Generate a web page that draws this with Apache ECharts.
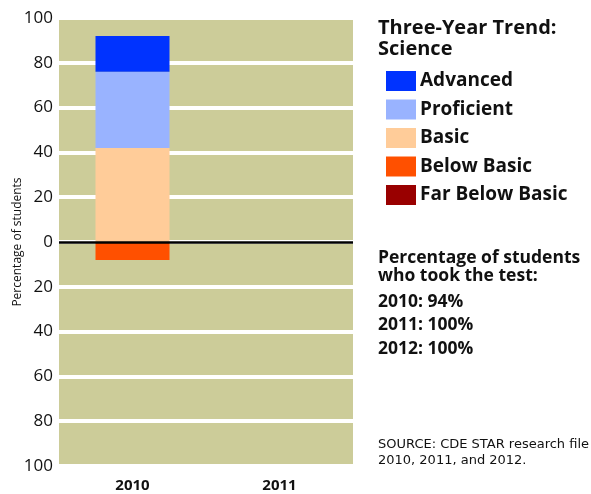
<!DOCTYPE html>
<html>
<head>
<meta charset="utf-8">
<script src="https://cdn.jsdelivr.net/npm/echarts@6/dist/echarts.min.js"></script>
<style>
  html, body { margin: 0; padding: 0; background: #fff; }
  #chart { width: 591px; height: 494px; }
</style>
</head>
<body>
<div id="chart"></div>
<script>
// data
const years = ['2010', '2011']
const advanced = [16, null]
const proficient = [34, null]
const basic = [42, null]
const belowBasic = [-8, null]
const farBelowBasic = [0, null]
const tested = ['2010: 94%', '2011: 100%', '2012: 100%']

const FONT = '"Open Sans", "DejaVu Sans", sans-serif'

const chart = echarts.init(document.getElementById('chart'))

const bar = (name, data, color) => ({
    name: name,
    type: 'bar',
    stack: 'levels',
    data: data,
    barWidth: 74,
    itemStyle: { color: color },
    emphasis: { disabled: true }
})

const series = [
    bar('Basic', basic, '#FFCC99'),
    bar('Proficient', proficient, '#99B3FF'),
    bar('Advanced', advanced, '#0033FF'),
    bar('Below Basic', belowBasic, '#FF5000'),
    bar('Far Below Basic', farBelowBasic, '#990000')
]
// black zero line
series[0].markLine = {
    silent: true,
    symbol: 'none',
    label: { show: false },
    lineStyle: { color: '#000', width: 2.5, type: 'solid' },
    data: [{ yAxis: 0 }]
}

const option = {
    animation: false,
    backgroundColor: '#fff',
    grid: {
        left: 59, right: 238, top: 18, bottom: 28,
        show: true,
        backgroundColor: '#CCCC99',
        borderWidth: 0
    },
    legend: {
        orient: 'vertical',
        left: 386,
        top: 71,
        padding: 0,
        itemWidth: 30,
        itemHeight: 20,
        itemGap: 8.5,
        icon: 'rect',
        data: ['Advanced', 'Proficient', 'Basic', 'Below Basic', 'Far Below Basic'],
        textStyle: { fontFamily: FONT, fontSize: 19, fontWeight: 'bold', color: '#111', padding: [0, 0, 0, -1] },
        selectedMode: false
    },
    xAxis: {
        type: 'category',
        data: years,
        axisLine: { show: false },
        axisTick: { show: false },
        axisLabel: { margin: 12, fontFamily: FONT, fontSize: 15, fontWeight: 'bold', color: '#111' }
    },
    yAxis: {
        type: 'value',
        min: -100,
        max: 100,
        interval: 20,
        name: 'Percentage of students',
        nameLocation: 'middle',
        nameGap: 35,
        nameMoveOverlap: false,
        nameTextStyle: { fontFamily: FONT, fontSize: 12, color: '#111' },
        axisLine: { show: false },
        axisTick: { show: false },
        axisLabel: {
            margin: 6,
            fontFamily: FONT,
            fontSize: 17,
            color: '#111',
            formatter: v => Math.abs(v)
        },
        splitLine: { lineStyle: { color: '#fff', width: 4 } }
    },
    graphic: [
        {
            type: 'text', left: 378, top: 18,
            style: { text: 'Three-Year Trend:\nScience', font: 'bold 20px ' + FONT, fill: '#111', lineHeight: 21 }
        },
        {
            type: 'text', left: 378, top: 249,
            style: { text: 'Percentage of students\nwho took the test:', font: 'bold 17.5px ' + FONT, fill: '#111', lineHeight: 18 }
        },
        {
            type: 'text', left: 378, top: 290,
            style: { text: tested.join('\n'), font: 'bold 17.5px ' + FONT, fill: '#111', lineHeight: 23.5 }
        },
        {
            type: 'text', left: 378, top: 437,
            style: { text: 'SOURCE: CDE STAR research file\n2010, 2011, and 2012.', font: '13px "DejaVu Sans", sans-serif', fill: '#111', lineHeight: 16 }
        }
    ],
    series: series
}

chart.setOption(option)
</script>
</body>
</html>
